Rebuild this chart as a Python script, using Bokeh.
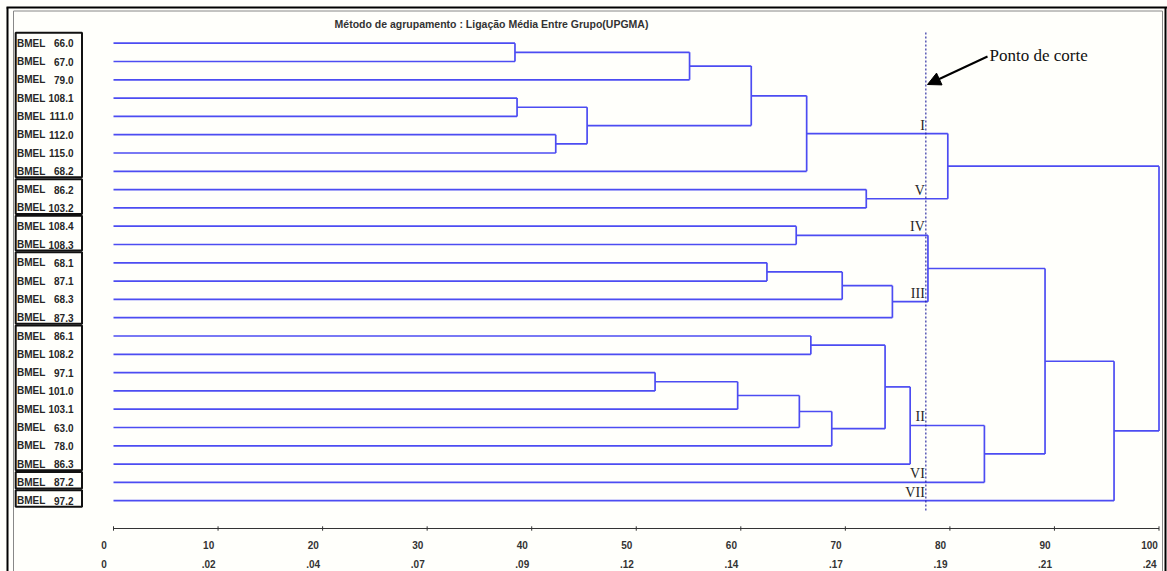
from bokeh.plotting import figure
from bokeh.models import Range1d, Arrow, NormalHead
from bokeh.core.properties import value
from bokeh.embed import file_html
from bokeh.resources import INLINE

# ---------------- data ----------------
leaf_labels = ["BMEL 66.0", "BMEL 67.0", "BMEL 79.0", "BMEL 108.1", "BMEL 111.0",
               "BMEL 112.0", "BMEL 115.0", "BMEL 68.2", "BMEL 86.2", "BMEL 103.2",
               "BMEL 108.4", "BMEL 108.3", "BMEL 68.1", "BMEL 87.1", "BMEL 68.3",
               "BMEL 87.3", "BMEL 86.1", "BMEL 108.2", "BMEL 97.1", "BMEL 101.0",
               "BMEL 103.1", "BMEL 63.0", "BMEL 78.0", "BMEL 86.3", "BMEL 87.2",
               "BMEL 97.2"]
# merges (leaves 0..25, internal nodes numbered 26.. in merge order)
merge_a = [0, 26, 3, 5, 28, 27, 31, 8, 32, 10, 12, 36, 37, 35, 16, 18, 41, 42, 43, 40, 45, 46, 39, 48, 34]
merge_b = [1, 2, 4, 6, 29, 30, 7, 9, 33, 11, 13, 14, 15, 38, 17, 19, 20, 21, 22, 44, 23, 24, 47, 25, 49]
merge_h = [38.4, 55.1, 38.6, 42.3, 45.3, 61.0, 66.3, 72.0, 79.8, 65.3, 62.5, 69.7, 74.5,
           77.9, 66.7, 51.8, 59.7, 65.6, 68.7, 73.8, 76.2, 83.3, 89.1, 95.7, 100.0]
cut_height = 77.7
cluster_names = ["I", "V", "IV", "III", "II", "VI", "VII"]
cluster_nodes = [32, 33, 35, 38, 46, 24, 25]
group_start = [0, 8, 10, 12, 16, 24, 25]
group_end = [7, 9, 11, 15, 23, 24, 25]
tick_values = [0, 10, 20, 30, 40, 50, 60, 70, 80, 90, 100]
tick_labels_top = ["0", "10", "20", "30", "40", "50", "60", "70", "80", "90", "100"]
tick_labels_bottom = ["0", ".02", ".04", ".07", ".09", ".12", ".14", ".17", ".19", ".21", ".24"]
title_text = "Método de agrupamento : Ligação Média Entre Grupo(UPGMA)"
cut_text = "Ponto de corte"

# ---------------- layout helpers ----------------
W, H = 1167, 571
X0, SX = 113.0, 10.455   # screen px of value 0, px per unit
Y0, SY = 42.7, 18.3      # screen px of leaf 0, px per leaf


def X(px):
    return (px - X0) / SX


def Y(py):
    return (py - Y0) / SY


BLUE = "#4c4cf2"
DARK = "#262626"

p = figure(width=W, height=H, output_backend="svg", toolbar_location=None,
           x_range=Range1d(X(0), X(W)), y_range=Range1d(Y(H), Y(0)),
           min_border=0, background_fill_color="#fffffb", border_fill_color="white")
p.axis.visible = False
p.grid.visible = False
p.outline_line_color = None

# ---------------- dendrogram ----------------
n = len(leaf_labels)
xs = [0.0] * n
ys = [float(i) for i in range(n)]
hx0, hx1, hy = [], [], []
vx, vy0, vy1 = [], [], []
for a, b, h in zip(merge_a, merge_b, merge_h):
    for c in (a, b):
        hx0.append(xs[c]); hx1.append(h); hy.append(ys[c])
    vx.append(h); vy0.append(ys[a]); vy1.append(ys[b])
    xs.append(h)
    ys.append((ys[a] + ys[b]) / 2.0)

p.segment(x0=hx0, y0=hy, x1=hx1, y1=hy, line_color=BLUE, line_width=1.7)
p.segment(x0=vx, y0=vy0, x1=vx, y1=vy1, line_color=BLUE, line_width=1.7)

# cut line
p.segment(x0=[cut_height], y0=[Y(32)], x1=[cut_height], y1=[Y(512)],
          line_color="#1c1c9c", line_width=1.1, line_dash="2 2")

# cluster labels
p.text(x=[cut_height - 0.1] * len(cluster_nodes), y=[ys[c] for c in cluster_nodes],
       text=cluster_names, text_align="right", text_baseline="bottom", y_offset=-1,
       text_font=value("Liberation Serif"), text_font_size=value("14px"), text_color=DARK)

# leaf labels
pref = [s.split(" ")[0] for s in leaf_labels]
nums = [s.split(" ")[1] for s in leaf_labels]
p.text(x=[X(16.5)] * n, y=list(range(n)), text=pref, text_align="left", text_baseline="middle",
       text_font=value("Liberation Sans"), text_font_style="bold",
       text_font_size=value("10px"), text_color=DARK)
p.text(x=[X(73)] * n, y=list(range(n)), text=nums, text_align="right", text_baseline="middle",
       text_font=value("Liberation Sans"), text_font_style="bold",
       text_font_size=value("10px"), text_color=DARK)

# group boxes
p.quad(left=[X(15.2)] * len(group_start), right=[X(81.5)] * len(group_start),
       top=[s - 0.57 for s in group_start], bottom=[e + 0.33 for e in group_end],
       fill_color=None, line_color="#111111", line_width=2)

# axis
ay = Y(528)
p.segment(x0=[tick_values[0]], y0=[ay], x1=[tick_values[-1]], y1=[ay], line_color="#333333", line_width=1)
p.segment(x0=tick_values, y0=[ay - 0.12] * len(tick_values), x1=tick_values,
          y1=[ay + 0.12] * len(tick_values), line_color="#333333", line_width=1)
p.text(x=[t - 0.9 for t in tick_values], y=[Y(544)] * len(tick_values), text=tick_labels_top,
       text_align="center", text_baseline="middle", text_font=value("Liberation Sans"),
       text_font_style="bold", text_font_size=value("10px"), text_color="#333333")
p.text(x=[t - 0.9 for t in tick_values], y=[Y(563)] * len(tick_values), text=tick_labels_bottom,
       text_align="center", text_baseline="middle", text_font=value("Liberation Sans"),
       text_font_style="bold", text_font_size=value("10px"), text_color="#333333")

# title
p.text(x=[X(491)], y=[Y(23.5)], text=[title_text], text_align="center", text_baseline="middle",
       text_font=value("Liberation Sans"), text_font_style="bold",
       text_font_size=value("10.5px"), text_color="#333333")

# cut annotation
p.text(x=[X(989)], y=[Y(55)], text=[cut_text], text_align="left", text_baseline="alphabetic",
       text_font=value("Liberation Serif"), text_font_size=value("17px"), text_color="#111111")
p.add_layout(Arrow(x_start=X(987), y_start=Y(56), x_end=X(927), y_end=Y(84),
                   line_color="black", line_width=2,
                   end=NormalHead(size=13, fill_color="black", line_color="black")))

# outer frame
p.segment(x0=[X(6), X(7), X(1165)], y0=[Y(7), Y(7), Y(7)],
          x1=[X(1167), X(7), X(1165)], y1=[Y(7), Y(571), Y(571)],
          line_color="black", line_width=2)
p.segment(x0=[X(13), X(13), X(1162)], y0=[Y(10.5), Y(10.5), Y(10.5)],
          x1=[X(1162), X(13), X(1162)], y1=[Y(10.5), Y(571), Y(571)],
          line_color="#888888", line_width=1)

open("out.html", "w").write(file_html(p, INLINE))
